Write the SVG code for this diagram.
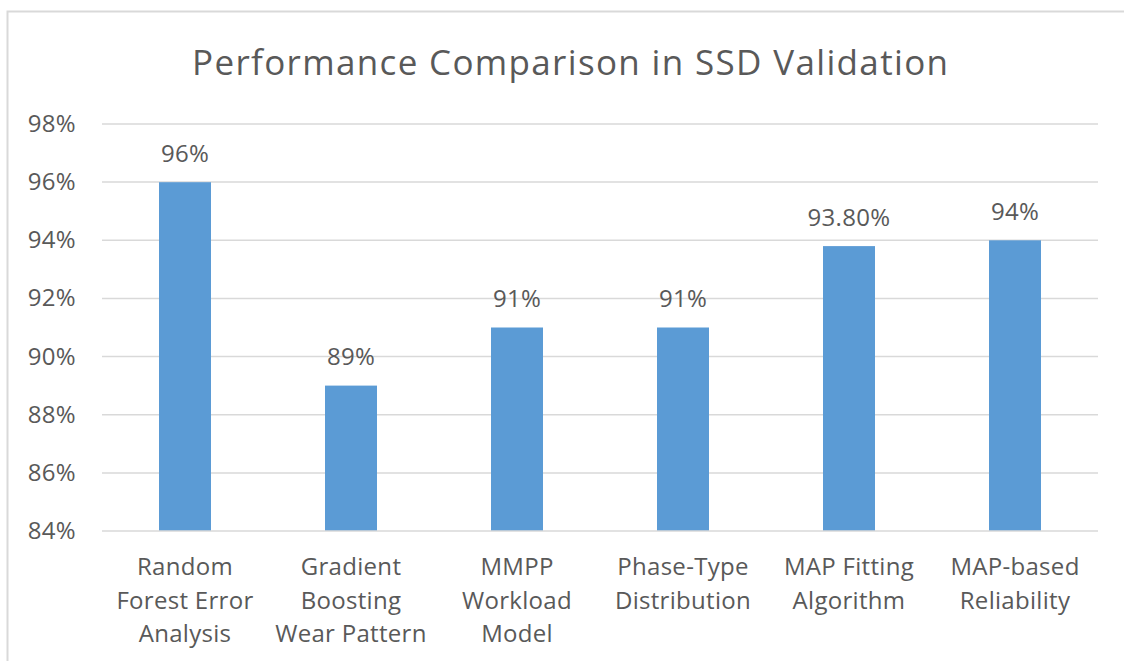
<svg xmlns="http://www.w3.org/2000/svg" width="1124" height="661" viewBox="0 0 1124 661">
<style>
.t{font-family:"Open Sans","Liberation Sans",sans-serif;fill:#595959}
.ax{font-size:24px;text-anchor:end;letter-spacing:0.3px}
.cat{font-size:24px;text-anchor:middle;letter-spacing:0.3px}
.dl{font-size:24px;text-anchor:middle;letter-spacing:0.3px}
.grid{stroke:#D9D9D9;stroke-width:1.5;fill:none}
.bar{fill:#5B9BD5}
</style>
<rect width="1124" height="661" fill="#FFFFFF"/>
<rect x="7.5" y="11.5" width="1200" height="700" fill="none" stroke="#D9D9D9" stroke-width="2"/>
<text class="t" x="570" y="75" font-size="35" text-anchor="middle" textLength="756" lengthAdjust="spacing">Performance Comparison in SSD Validation</text>
<g id="gridlines">
<line class="grid" x1="102" y1="124" x2="1098" y2="124"/>
<line class="grid" x1="102" y1="182.1" x2="1098" y2="182.1"/>
<line class="grid" x1="102" y1="240.3" x2="1098" y2="240.3"/>
<line class="grid" x1="102" y1="298.4" x2="1098" y2="298.4"/>
<line class="grid" x1="102" y1="356.6" x2="1098" y2="356.6"/>
<line class="grid" x1="102" y1="414.7" x2="1098" y2="414.7"/>
<line class="grid" x1="102" y1="472.9" x2="1098" y2="472.9"/>
</g>
<g id="y-axis">
<text class="t ax" x="76" y="132">98%</text>
<text class="t ax" x="76" y="190">96%</text>
<text class="t ax" x="76" y="248">94%</text>
<text class="t ax" x="76" y="306">92%</text>
<text class="t ax" x="76" y="365">90%</text>
<text class="t ax" x="76" y="423">88%</text>
<text class="t ax" x="76" y="481">86%</text>
<text class="t ax" x="76" y="539">84%</text>
</g>
<g id="bar-random-forest">
<rect class="bar" x="159" y="182.2" width="52" height="348.8"/>
<text class="t dl" x="185" y="162">96%</text>
<text class="t cat" x="185" y="575">Random</text>
<text class="t cat" x="185" y="609">Forest Error</text>
<text class="t cat" x="185" y="642">Analysis</text>
</g>
<g id="bar-gradient-boosting">
<rect class="bar" x="325" y="385.6" width="52" height="145.4"/>
<text class="t dl" x="351" y="365">89%</text>
<text class="t cat" x="351" y="575">Gradient</text>
<text class="t cat" x="351" y="609">Boosting</text>
<text class="t cat" x="351" y="642">Wear Pattern</text>
</g>
<g id="bar-mmpp">
<rect class="bar" x="491" y="327.5" width="52" height="203.5"/>
<text class="t dl" x="517" y="307">91%</text>
<text class="t cat" x="517" y="575">MMPP</text>
<text class="t cat" x="517" y="609">Workload</text>
<text class="t cat" x="517" y="642">Model</text>
</g>
<g id="bar-phase-type">
<rect class="bar" x="657" y="327.5" width="52" height="203.5"/>
<text class="t dl" x="683" y="307">91%</text>
<text class="t cat" x="683" y="575">Phase-Type</text>
<text class="t cat" x="683" y="609">Distribution</text>
</g>
<g id="bar-map-fitting">
<rect class="bar" x="823" y="246.1" width="52" height="284.9"/>
<text class="t dl" x="849" y="226">93.80%</text>
<text class="t cat" x="849" y="575">MAP Fitting</text>
<text class="t cat" x="849" y="609">Algorithm</text>
</g>
<g id="bar-map-reliability">
<rect class="bar" x="989" y="240.3" width="52" height="290.7"/>
<text class="t dl" x="1015" y="220">94%</text>
<text class="t cat" x="1015" y="575">MAP-based</text>
<text class="t cat" x="1015" y="609">Reliability</text>
</g>
<line class="grid" x1="102" y1="531" x2="1098" y2="531"/>
</svg>
